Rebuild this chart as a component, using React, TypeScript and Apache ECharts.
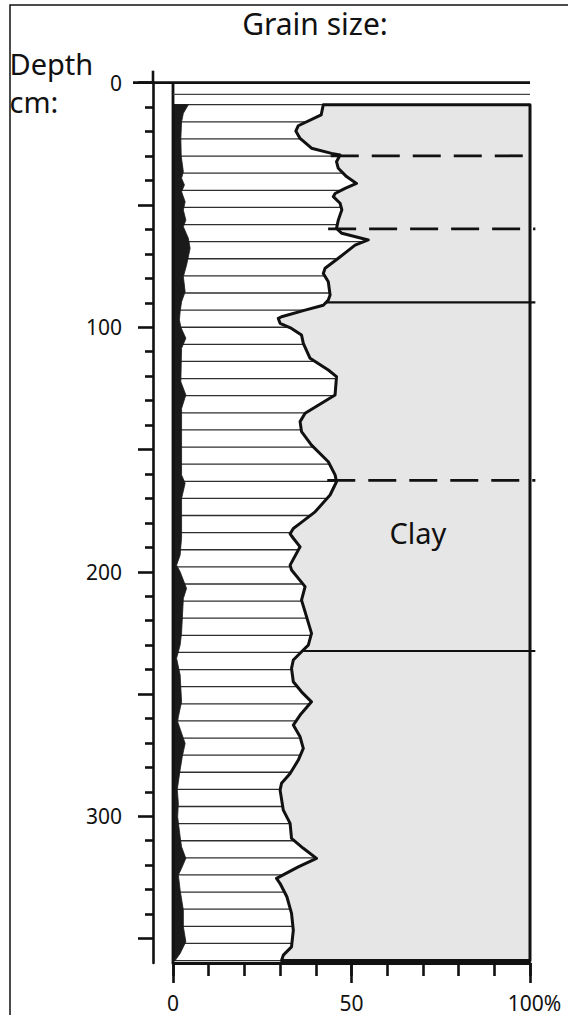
import React, { useEffect, useRef } from "react";
import * as echarts from "echarts";

// ---- Data ----
// Cumulative sand+silt percentage (silt/clay boundary) by depth (cm)
const boundaryDepth = [
  9, 13.2, 17.6, 19.8, 22.8, 26.8, 28.9, 29.6, 32.3, 35, 38.4, 41.2, 43.2, 45.3, 46.6, 49.3, 52, 56.2, 59.6,
  61.6, 64.3, 66.4, 71.8, 75.9, 78, 81.4, 86.8, 88.9, 91, 93, 95.7, 96.4, 98.4, 100.5, 103.2, 106.6, 112.7,
  117.5, 120.2, 127.7, 131.1, 135.2, 138.6, 142.7, 148.2, 155, 160.4, 163.2, 168.6, 175.5, 180.2, 182.3,
  184.5, 186.3, 189.8, 197.3, 199.3, 206.1, 211.6, 216.4, 225.2, 230, 232.7, 236.1, 239.5, 245, 249.1,
  253.2, 258.6, 262.7, 267.5, 272.2, 277, 282.5, 286.5, 289.3, 297.5, 302.9, 309, 313.1, 317.2, 320.7,
  325.4, 327.5, 332.9, 339.7, 346.6, 353.4, 356.8, 359,
];
const boundaryPct = [
  42.1, 41.5, 35.1, 34.4, 35.6, 38.8, 44.4, 46.8, 45.8, 46.3, 48.6, 51.4, 48.2, 45.4, 44.9, 46.8, 47.3, 46.3, 45.8,
  47.3, 54.7, 51, 46.3, 42.6, 42.1, 43.5, 44, 43.5, 42.1, 37, 30.4, 29.5, 30, 33.2, 36, 36.5, 38.4,
  43.5, 45.8, 45.4, 41.6, 37, 35.6, 36, 38.8, 43.5, 45.4, 45.8, 44, 39.8, 35.6, 33.7,
  32.8, 33.7, 35.6, 32.8, 33.2, 37, 36, 37, 38.8, 37.9, 36, 33.7, 33.2, 33.7, 36,
  38.8, 35.6, 33.7, 35.6, 36.5, 35.1, 32.8, 30.4, 30, 30.9, 32.8, 33.2, 36.5, 40.2, 35.1,
  29, 30, 31.9, 33.2, 33.7, 33.2, 30.9, 30.4,
];
// Sand percentage by depth (cm)
const sandDepth = [
  9, 12.5, 16, 22.8, 30, 36.4, 39.1, 41.8, 44.6, 48.7, 52.1, 56.2, 58.9, 63.6, 67.7, 74.6, 79.3, 85.5, 89.6,
  93.7, 97, 100, 104.5, 108.6, 122.3, 127.7, 133.2, 160.4, 163.8, 170, 186, 193.2, 197.3, 200, 206.8, 210.9,
  225, 230, 235.4, 242.2, 253.2, 259.3, 261.3, 270.2, 275.6, 281, 289, 294.7, 300.2, 308.4, 312.5, 317.2,
  321.3, 324, 330.2, 338.4, 345.2, 351.3, 356.1, 359,
];
const sandPct = [
  4.3, 2.9, 2.4, 2.2, 2.3, 2.9, 2.4, 3.2, 2.4, 3.4, 2.9, 3.6, 2.9, 4.3, 4.8, 3.8, 2.9, 3.4, 2.4,
  2, 1.8, 2.2, 3.6, 2.4, 2.2, 3.6, 2.4, 2.4, 3.4, 2.4, 2.4, 2, 1, 2, 3.8, 2.9,
  2.4, 2, 1, 2, 2.4, 1.5, 1.3, 3.4, 2.6, 2, 1.2, 1.5, 1.3, 2, 2.4, 3.6,
  2.4, 1.5, 2, 2.9, 2.9, 3.6, 2, 0.6,
];
// Unit boundaries
const unitDepths = [29.9, 59.8, 89.8, 162.6, 232.4];
const unitDashed = [true, true, false, true, false];
const surfaceDepth = 4.8;

// Axis ticks / labels
const xMinorTicks = [0, 10, 20, 30, 40, 50, 60, 70, 80, 90, 100];
const xMajorTicks = [0, 50, 100];
const depthMajorTicks = [0, 50, 100, 150, 200, 250, 300, 350];
const depthMinorTicks = [
  10, 20, 30, 40, 60, 70, 80, 90, 110, 120, 130, 140, 160, 170, 180, 190, 210, 220, 230, 240, 260, 270, 280,
  290, 310, 320, 330, 340,
];
const depthLabels = [0, 100, 200, 300];

const FONT = "'Noto Sans', 'Open Sans', sans-serif";
const INK = "#111";
const HATCH_STEP = 7;
const AXIS_OFFSET = 20;

function interp(ds: number[], vs: number[], d: number) {
  if (d <= ds[0]) return vs[0];
  for (let i = 1; i < ds.length; i++) {
    if (d <= ds[i]) {
      const t = (d - ds[i - 1]) / (ds[i] - ds[i - 1]);
      return vs[i - 1] + t * (vs[i] - vs[i - 1]);
    }
  }
  return vs[vs.length - 1];
}

export default function App() {
  const ref = useRef<HTMLDivElement>(null);
  useEffect(() => {
    if (!ref.current) return;
    const chart = echarts.init(ref.current, undefined, { renderer: "svg" });

    const renderItem = (_params: any, api: any) => {
      const c = (x: number, d: number) => api.coord([x, d]);
      const children: any[] = [];
      const top = boundaryDepth[0];
      const bottom = boundaryDepth[boundaryDepth.length - 1];
      // hatch lines in silt
      for (let h = top; h <= bottom + 0.01; h += HATCH_STEP) {
        const b = interp(boundaryDepth, boundaryPct, h);
        const p0 = c(0, h);
        const p1 = c(b, h);
        children.push({
          type: "line",
          shape: { x1: p0[0], y1: p0[1], x2: p1[0], y2: p1[1] },
          style: { stroke: "#2e2e2e", lineWidth: 1.3 },
        });
      }
      // clay area
      const clayPts = boundaryDepth.map((d, i) => c(boundaryPct[i], d));
      clayPts.push(c(100, bottom), c(100, top));
      children.push({
        type: "polygon",
        shape: { points: clayPts },
        style: { fill: "#e6e6e6", stroke: INK, lineWidth: 3, lineJoin: "round" },
      });
      // sand area
      const sandPts = [c(0, sandDepth[0])]
        .concat(sandDepth.map((d, i) => c(sandPct[i], d)))
        .concat([c(0, sandDepth[sandDepth.length - 1])]);
      children.push({
        type: "polygon",
        shape: { points: sandPts },
        style: { fill: "#1a1a1a", stroke: "#1a1a1a", lineWidth: 0.8 },
      });
      // zero line of the diagram
      const z0 = c(0, 0);
      const z1 = c(0, 360);
      children.push({
        type: "line",
        shape: { x1: z0[0], y1: z0[1], x2: z1[0], y2: z1[1] },
        style: { stroke: INK, lineWidth: 2.8 },
      });
      // depth 0 line, extending left across the depth axis
      const r0 = c(100, 0);
      children.push({
        type: "line",
        shape: { x1: z0[0] - AXIS_OFFSET - 20, y1: z0[1], x2: r0[0], y2: r0[1] },
        style: { stroke: INK, lineWidth: 2.8 },
      });
      // depth axis extension above 0
      children.push({
        type: "line",
        shape: { x1: z0[0] - AXIS_OFFSET, y1: z0[1] - 12, x2: z0[0] - AXIS_OFFSET, y2: z0[1] },
        style: { stroke: INK, lineWidth: 2.6 },
      });
      // surface line
      const s0 = c(0, surfaceDepth);
      const s1 = c(100, surfaceDepth);
      children.push({
        type: "line",
        shape: { x1: s0[0], y1: s0[1], x2: s1[0], y2: s1[1] },
        style: { stroke: "#444", lineWidth: 1.2 },
      });
      // unit boundaries
      unitDepths.forEach((d, i) => {
        const b = interp(boundaryDepth, boundaryPct, d);
        const p0 = c(b - (unitDashed[i] ? 2.5 : 0), d);
        const p1 = c(101.5, d);
        children.push({
          type: "line",
          shape: { x1: p0[0], y1: p0[1], x2: p1[0], y2: p1[1] },
          style: {
            stroke: INK,
            lineWidth: unitDashed[i] ? 2.8 : 2.2,
            lineDash: unitDashed[i] ? [28, 13] : null,
          },
        });
      });
      // Clay label
      const lp = c(68.6, 184);
      children.push({
        type: "text",
        x: lp[0],
        y: lp[1],
        style: {
          text: "Clay",
          fontSize: 29,
          fontFamily: FONT,
          fill: INK,
          align: "center",
          verticalAlign: "middle",
          textAlign: "center",
          textVerticalAlign: "middle",
        },
      });
      return { type: "group", children };
    };

    const option: any = {
      animation: false,
      backgroundColor: "#fff",
      grid: { left: 173, right: 38, top: 82.7, bottom: 52, containLabel: false },
      xAxis: [
        {
          type: "value",
          min: 0,
          max: 100,
          position: "bottom",
          axisLine: { show: true, onZero: false, lineStyle: { color: INK, width: 2.8 } },
          axisTick: { show: true, length: 13, customValues: xMinorTicks, lineStyle: { color: INK, width: 2.6 } },
          axisLabel: { show: false },
          splitLine: { show: false },
        },
        {
          type: "value",
          min: 0,
          max: 100,
          position: "bottom",
          axisLine: { show: false, onZero: false },
          axisTick: { show: true, length: 20, customValues: xMajorTicks, lineStyle: { color: INK, width: 2.6 } },
          axisLabel: {
            show: true,
            customValues: xMajorTicks,
            margin: 29,
            fontSize: 21,
            lineHeight: 21,
            fontFamily: FONT,
            color: INK,
            formatter: (v: number) => (v === 100 ? "{pad|}100%" : String(v)),
            rich: { pad: { width: 9 } },
          },
          splitLine: { show: false },
        },
      ],
      yAxis: [
        {
          type: "value",
          inverse: true,
          min: 0,
          max: 360,
          position: "left",
          offset: AXIS_OFFSET,
          axisLine: { show: true, onZero: false, lineStyle: { color: INK, width: 2.6 } },
          axisTick: { show: true, length: 15, customValues: depthMajorTicks, lineStyle: { color: INK, width: 2.6 } },
          axisLabel: {
            show: true,
            customValues: depthLabels,
            margin: 31,
            fontSize: 21,
            fontFamily: FONT,
            color: INK,
            padding: [4, 0, 0, 0],
          },
          splitLine: { show: false },
        },
        {
          type: "value",
          inverse: true,
          min: 0,
          max: 360,
          position: "left",
          offset: AXIS_OFFSET,
          axisLine: { show: false, onZero: false },
          axisTick: { show: true, length: 8, customValues: depthMinorTicks, lineStyle: { color: INK, width: 2.6 } },
          axisLabel: { show: false },
          splitLine: { show: false },
        },
      ],
      graphic: [
        {
          type: "rect",
          shape: { x: 10, y: 5, width: 700, height: 1200 },
          style: { fill: "none", stroke: INK, lineWidth: 1.5 },
          silent: true,
        },
        {
          type: "text",
          x: 315,
          y: 23.5,
          style: {
            text: "Grain size:",
            fontSize: 30,
            fontFamily: FONT,
            fill: INK,
            align: "center",
            verticalAlign: "middle",
            textAlign: "center",
            textVerticalAlign: "middle",
          },
        },
        {
          type: "text",
          x: 9.5,
          y: 63,
          style: {
            text: "Depth",
            fontSize: 29,
            fontFamily: FONT,
            fill: INK,
            align: "left",
            verticalAlign: "middle",
            textAlign: "left",
            textVerticalAlign: "middle",
          },
        },
        {
          type: "text",
          x: 9.5,
          y: 101,
          style: {
            text: "cm:",
            fontSize: 29,
            fontFamily: FONT,
            fill: INK,
            align: "left",
            verticalAlign: "middle",
            textAlign: "left",
            textVerticalAlign: "middle",
          },
        },
      ],
      series: [
        {
          type: "custom",
          xAxisIndex: 0,
          yAxisIndex: 0,
          clip: false,
          silent: true,
          renderItem,
          data: [[0, 0]],
        },
      ],
    };
    chart.setOption(option);
    return () => chart.dispose();
  }, []);

  return (
    <div
      ref={ref}
      style={{ position: "absolute", left: 0, top: 0, width: 568, height: 1015, background: "#fff" }}
    />
  );
}
